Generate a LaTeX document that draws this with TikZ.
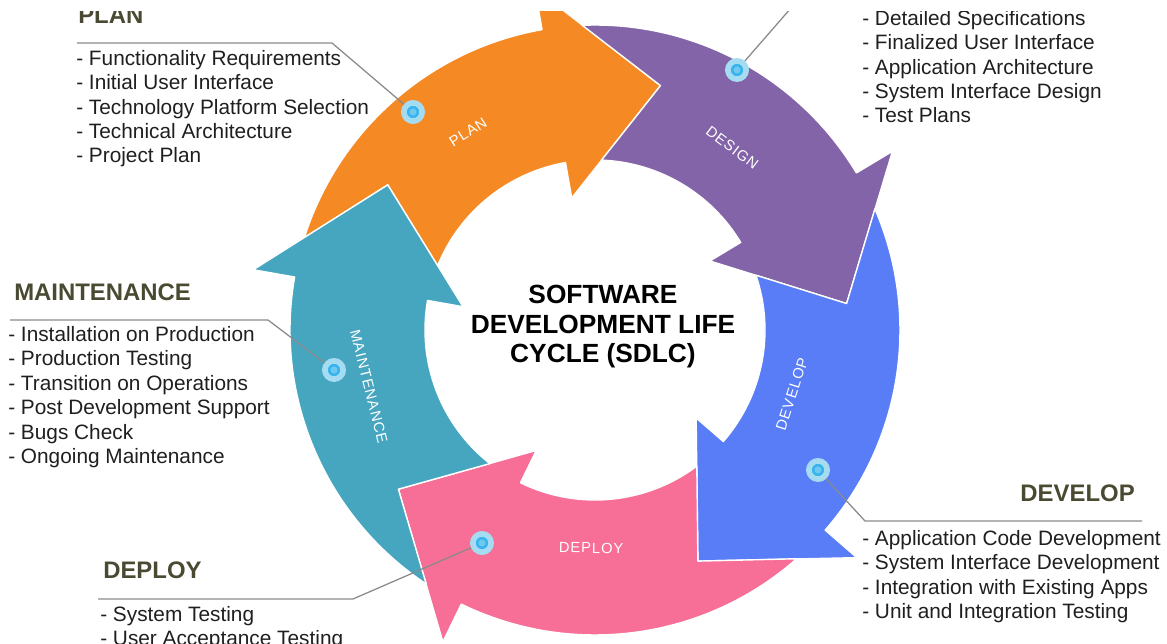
\documentclass[tikz,border=0pt]{standalone}
\usepackage{fontspec}
\setmainfont{Liberation Sans}
\newfontfamily\ringfont[LetterSpace=6]{Liberation Sans}
\usepackage{tikz}

\definecolor{planorange}{HTML}{F58A25}
\definecolor{designpurple}{HTML}{8364A8}
\definecolor{developblue}{HTML}{587DF7}
\definecolor{deploypink}{HTML}{F76E96}
\definecolor{maintteal}{HTML}{46A6C0}
\definecolor{dotblue}{HTML}{38B4EC}
\definecolor{dothalo}{HTML}{A6DCF2}
\definecolor{headolive}{HTML}{4A4A32}
\definecolor{leadergray}{HTML}{8A8A8A}

\begin{document}
\begin{tikzpicture}[x=0.025cm, y=0.025cm,
        segment/.style={draw=white, line width=1pt, line join=round},
        seglabel/.style={text=white, inner sep=0pt, font=\ringfont\fontsize{10.5}{12}\selectfont},
        dot/.style={circle, fill=dotblue, draw=dothalo, line width=4pt, minimum size=13pt, inner sep=0pt,
            path picture={\fill[dothalo!50!dotblue] (path picture bounding box.center) circle (2.5pt);}},
        leader/.style={draw=leadergray, line width=0.9pt},
        phase/.style={font=\fontsize{17}{20}\selectfont\bfseries, text=headolive, inner sep=0pt},
        tasks/.style={font=\fontsize{14.8}{17.36}\selectfont, text=black!88, align=left, inner sep=0pt}]
        \useasboundingbox (0,0) rectangle (1167,644);
        \clip (0,0) rectangle (1167,632);

        % ring of five arrows
        \begin{scope}[shift={(595,314)}]
            % Plan
            \draw[segment, fill=planorange] (162.4:305) arc[start angle=162.4, end angle=100, radius=305]
                -- (100:347) -- (75:253) -- (100:134) -- (100:170)
                arc[start angle=100, end angle=157.8, radius=170] -- (145:253) -- cycle;
            \node (planlabel) at (122.7:235) [seglabel, rotate=32.7] {PLAN};
            % Design
            \draw[segment, fill=designpurple] (92.4:305) arc[start angle=92.4, end angle=31, radius=305]
                -- (31:347) -- (6:253) -- (31:134) -- (31:170)
                arc[start angle=31, end angle=87.8, radius=170] -- (75:253) -- cycle;
            \node (designlabel) at (53:228) [seglabel, rotate=-37] {DESIGN};
            % Develop
            \draw[segment, fill=developblue] (23.4:305) arc[start angle=23.4, end angle=-41, radius=305]
                -- (-41:347) -- (-66:253) -- (-41:134) -- (-41:170)
                arc[start angle=-41, end angle=18.8, radius=170] -- (6:253) -- cycle;
            \node (developlabel) at (-18:207) [seglabel, rotate=72] {DEVELOP};
            % Deploy
            \draw[segment, fill=deploypink] (-48.6:305) arc[start angle=-48.6, end angle=-116, radius=305]
                -- (-116:347) -- (-141:253) -- (-116:134) -- (-116:170)
                arc[start angle=-116, end angle=-53.2, radius=170] -- (-66:253) -- cycle;
            \node (deploylabel) at (-91:218) [seglabel, rotate=-1] {DEPLOY};
            % Maintenance
            \draw[segment, fill=maintteal] (236.4:305) arc[start angle=236.4, end angle=170, radius=305]
                -- (170:347) -- (145:253) -- (170:134) -- (170:170)
                arc[start angle=170, end angle=231.8, radius=170] -- (219:253) -- cycle;
            \node (maintlabel) at (-166:233) [seglabel, rotate=-76] {MAINTENANCE};
        \end{scope}

        % title
        \node (title) at (603,317) [align=center, font=\fontsize{18.7}{21}\selectfont\bfseries]
            {SOFTWARE\\DEVELOPMENT LIFE\\CYCLE (SDLC)};

        % Plan
        \node[dot] (plandot) at (413,532) {};
        \coordinate (planbend) at (332,601);
        \coordinate (planend) at (77,601);
        \draw[leader] (plandot) -- (planbend) -- (planend);
        \node (planhead) at (78,629) [phase, anchor = west] {PLAN};
        \node (planlist) at (76,594) [tasks, anchor = north west]
            {- Functionality Requirements\\- Initial User Interface\\- Technology Platform Selection\\- Technical Architecture\\- Project Plan};

        % Design
        \node[dot] (designdot) at (737,574) {};
        \coordinate (designend) at (798,644);
        \draw[leader] (designdot) -- (designend);
        \node (designlist) at (862,634) [tasks, anchor = north west]
            {- Detailed Specifications\\- Finalized User Interface\\- Application Architecture\\- System Interface Design\\- Test Plans};

        % Maintenance
        \node[dot] (maintdot) at (334,274) {};
        \coordinate (maintbend) at (268,324);
        \coordinate (maintend) at (10,324);
        \draw[leader] (maintdot) -- (maintbend) -- (maintend);
        \node (mainthead) at (14,352) [phase, anchor = west] {MAINTENANCE};
        \node (maintlist) at (8,318) [tasks, anchor = north west]
            {- Installation on Production\\- Production Testing\\- Transition on Operations\\- Post Development Support\\- Bugs Check\\- Ongoing Maintenance};

        % Develop
        \node[dot] (developdot) at (818,174) {};
        \coordinate (developbend) at (865,123);
        \coordinate (developend) at (1142,123);
        \draw[leader] (developdot) -- (developbend) -- (developend);
        \node (develophead) at (1135,151) [phase, anchor = east] {DEVELOP};
        \node (developlist) at (862,114) [tasks, anchor = north west]
            {- Application Code Development\\- System Interface Development\\- Integration with Existing Apps\\- Unit and Integration Testing};

        % Deploy
        \node[dot] (deploydot) at (482,101) {};
        \coordinate (deploybend) at (353,45);
        \coordinate (deployend) at (98,45);
        \draw[leader] (deploydot) -- (deploybend) -- (deployend);
        \node (deployhead) at (103,74) [phase, anchor = west] {DEPLOY};
        \node (deploylist) at (100,38) [tasks, anchor = north west]
            {- System Testing\\- User Acceptance Testing};
\end{tikzpicture}
\end{document}
